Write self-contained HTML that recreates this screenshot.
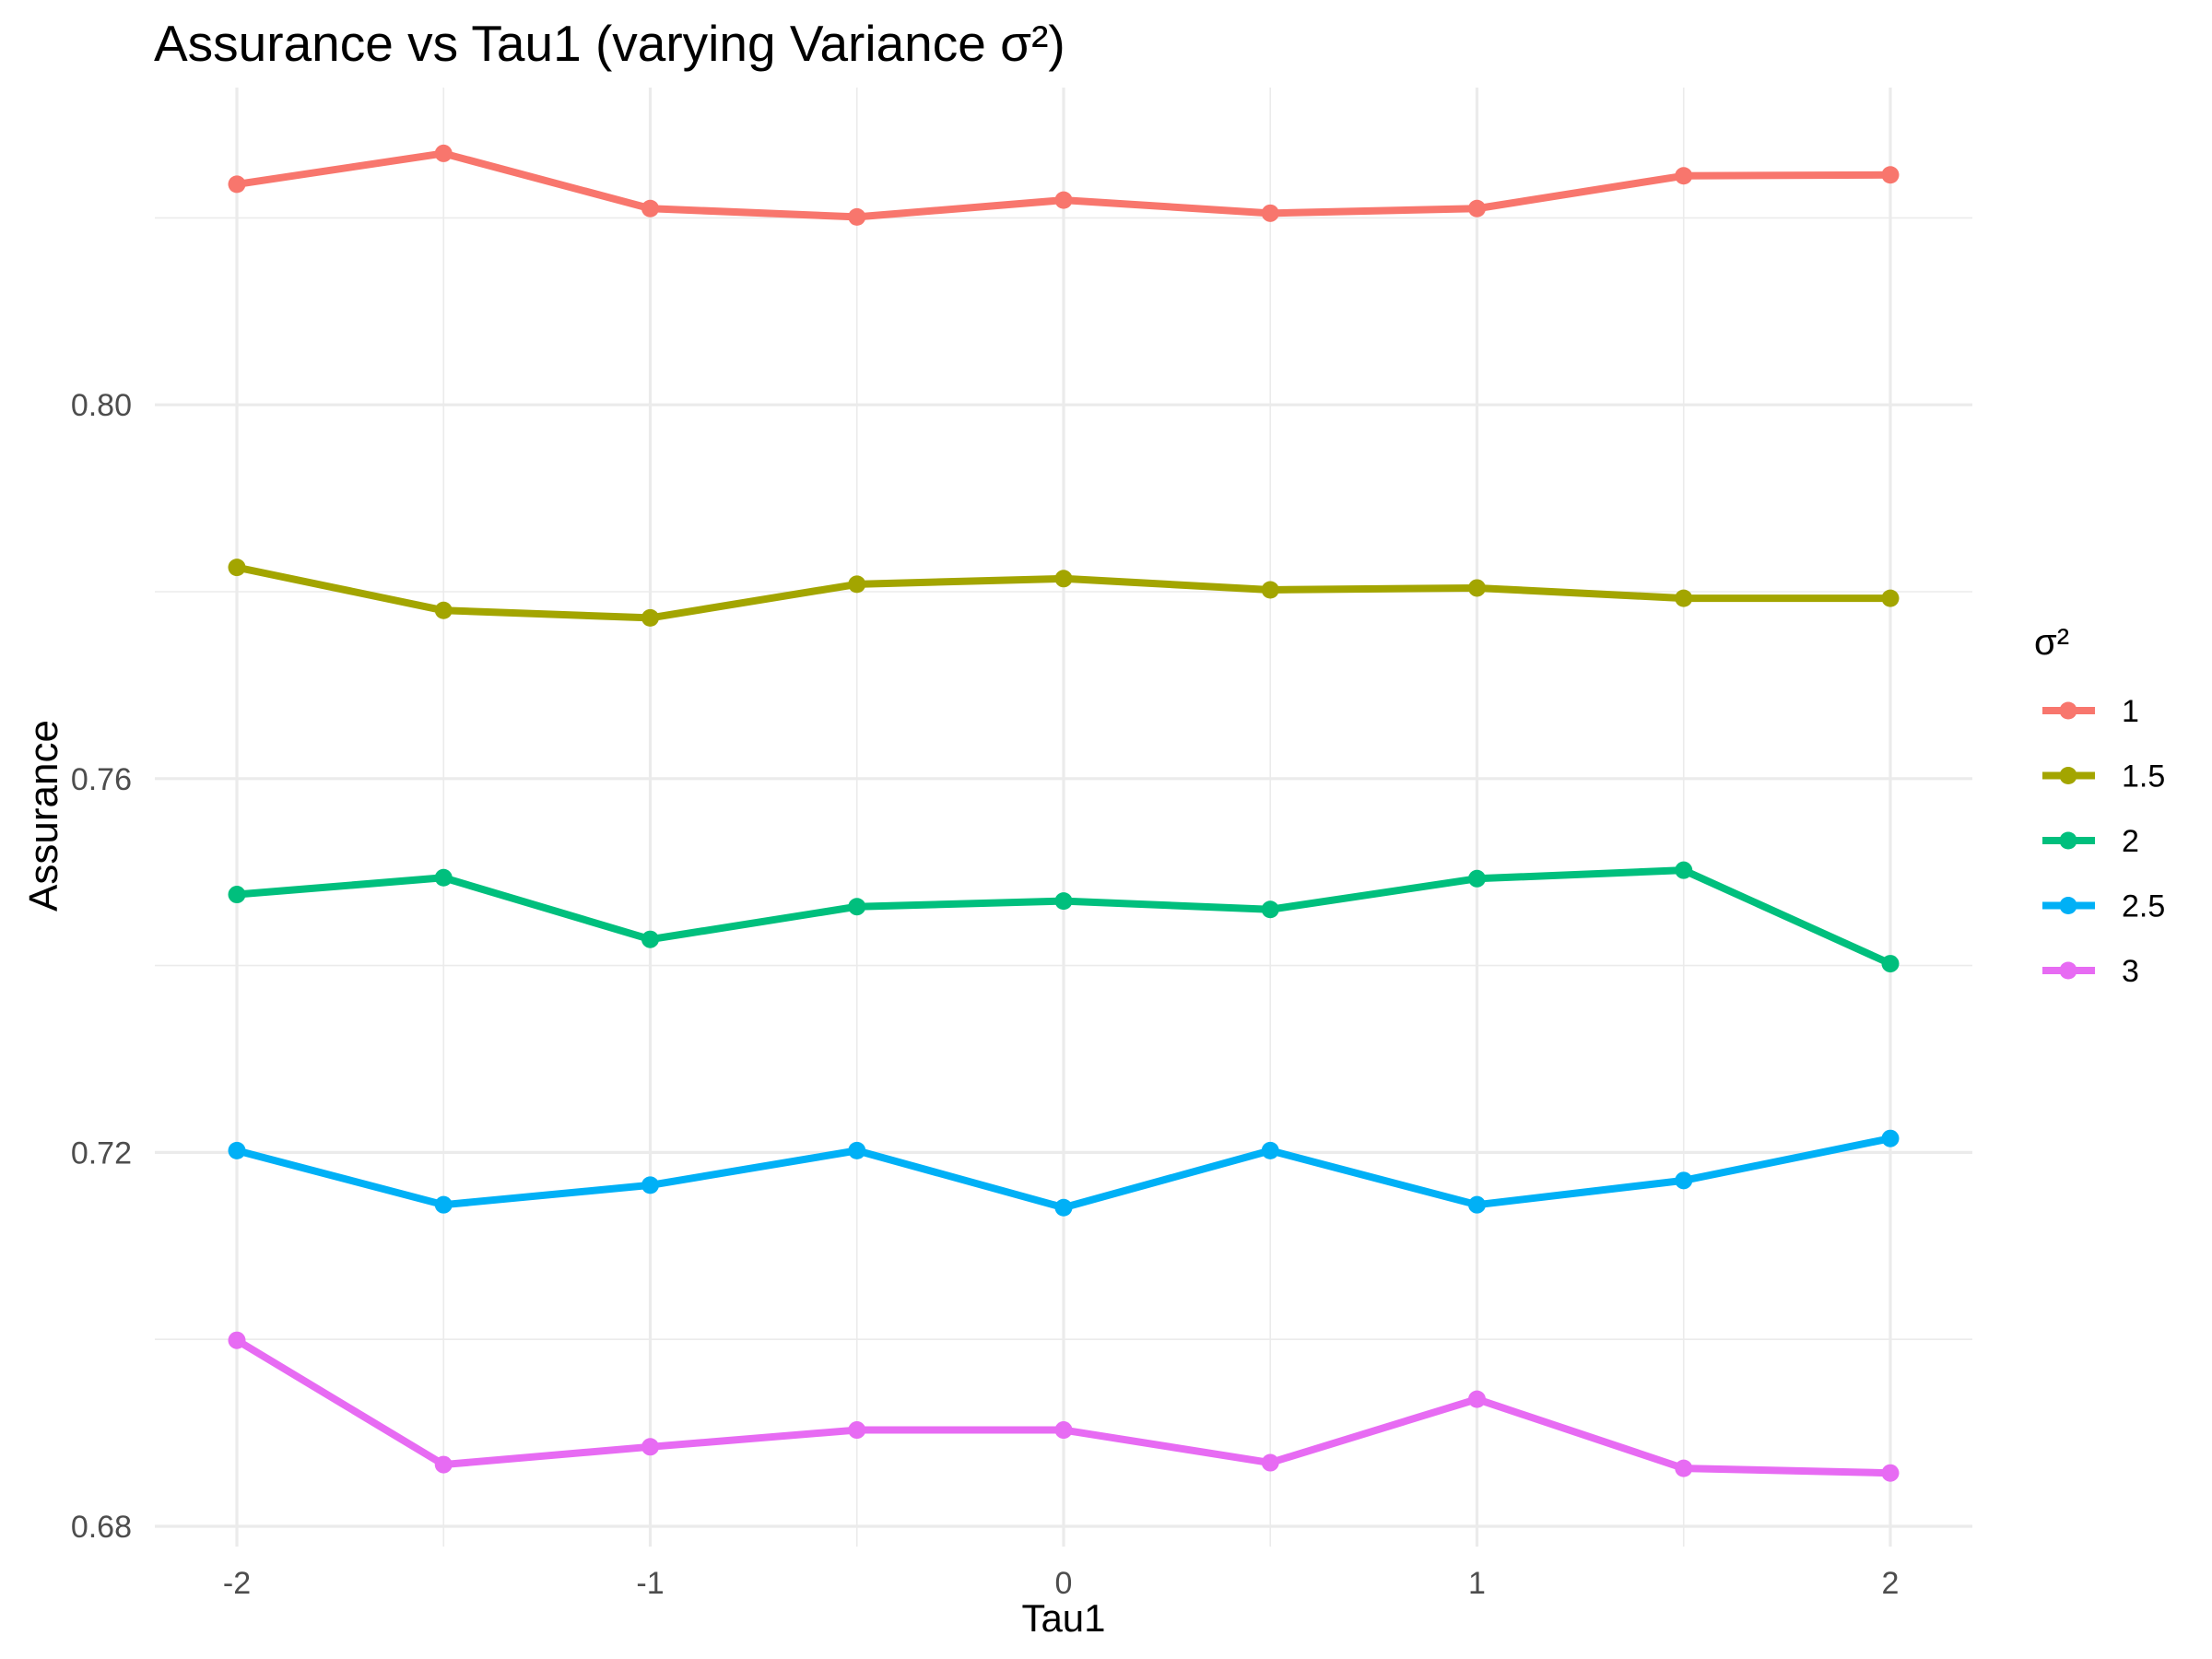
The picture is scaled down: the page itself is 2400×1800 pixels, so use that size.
<!DOCTYPE html>
<html><head><meta charset="utf-8"><style>body{margin:0;background:#fff}svg{display:block}text{font-family:"Liberation Sans",sans-serif}</style></head>
<body>
<svg id="chart" width="2400" height="1800" xmlns="http://www.w3.org/2000/svg">
<rect width="2400" height="1800" fill="#fff"/>
<g id="grid"></g><g id="series"></g><g id="axes"></g><g id="legend"></g>
<text x="167" y="66" font-size="55" fill="#000">Assurance vs Tau1 (varying Variance σ²)</text>
<text x="1154" y="1770" font-size="42" text-anchor="middle" fill="#000">Tau1</text>
<text transform="translate(62,885) rotate(-90)" font-size="44" text-anchor="middle" fill="#000">Assurance</text>
</svg>
<script>
const taus = [-2,-1.5,-1,-0.5,0,0.5,1,1.5,2];
const seriesNames = ["1","1.5","2","2.5","3"];
const colors = ["#F8766D","#A3A500","#00BF7D","#00B0F6","#E76BF3"];
const s1 = [0.8236,0.8269,0.8210,0.8201,0.8219,0.8205,0.8210,0.8245,0.8246];
const s15 = [0.7826,0.7780,0.7772,0.7808,0.7814,0.7802,0.7804,0.7793,0.7793];
const s2 = [0.7476,0.7494,0.7428,0.7463,0.7469,0.7460,0.7493,0.7502,0.7402];
const s25 = [0.7202,0.7144,0.7165,0.7202,0.7141,0.7202,0.7144,0.7170,0.7215];
const s3 = [0.6999,0.6866,0.6885,0.6903,0.6903,0.6868,0.6936,0.6862,0.6857];
const xTicks = [-2,-1,0,1,2];
const xTickLabels = ["-2","-1","0","1","2"];
const yTicks = [0.68,0.72,0.76,0.80];
const yTickLabels = ["0.68","0.72","0.76","0.80"];
const NS="http://www.w3.org/2000/svg";
const X = t => 257 + (t+2)*448.5;
const Y = v => 1656 - (v-0.68)/0.04*405.6;
function mk(tag, attrs, parent){const e=document.createElementNS(NS,tag);for(const k in attrs)e.setAttribute(k,attrs[k]);parent.appendChild(e);return e;}
const grid=document.getElementById('grid'), ser=document.getElementById('series'), ax=document.getElementById('axes'), leg=document.getElementById('legend');
const L=168, R=2140, T=95, B=1678;
[0.70,0.74,0.78,0.82].forEach(v=>{const l=mk('line',{x1:L,x2:R,y1:Y(v),y2:Y(v),stroke:'#ebebeb','stroke-width':1.6},grid);

});
[-1.5,-0.5,0.5,1.5].forEach(t=>{const l=mk('line',{x1:X(t),x2:X(t),y1:T,y2:B,stroke:'#ebebeb','stroke-width':1.6},grid);

});
yTicks.forEach((v,i)=>{const l=mk('line',{x1:L,x2:R,y1:Y(v),y2:Y(v),stroke:'#ebebeb','stroke-width':3.2},grid);


const t=mk('text',{x:143,y:Y(v)+12,'font-size':34,'text-anchor':'end',fill:'#4d4d4d'},ax);t.textContent=yTickLabels[i];

});
xTicks.forEach((v,i)=>{const l=mk('line',{x1:X(v),x2:X(v),y1:T,y2:B,stroke:'#ebebeb','stroke-width':3.2},grid);


const t=mk('text',{x:X(v),y:1729,'font-size':34,'text-anchor':'middle',fill:'#4d4d4d'},ax);t.textContent=xTickLabels[i];

});
const data=[s1,s15,s2,s25,s3];
data.forEach((vals,si)=>{
 const g=mk('g',{},ser);
 
 
 const p=mk('polyline',{points:vals.map((v,i)=>X(taus[i])+','+Y(v)).join(' '),fill:'none',stroke:colors[si],'stroke-width':8,'stroke-linejoin':'round'},g);
 
 
 vals.forEach((v,i)=>{const c=mk('circle',{cx:X(taus[i]),cy:Y(v),r:9.5,fill:colors[si]},g);
 
 });
 const ly=771+si*70.5;
 const lg=mk('g',{},leg);
 
 
 mk('line',{x1:2216,x2:2273,y1:ly,y2:ly,stroke:colors[si],'stroke-width':8},lg);
 mk('circle',{cx:2244,cy:ly,r:9.5,fill:colors[si]},lg);
 const t=mk('text',{x:2302,y:ly+12,'font-size':34,fill:'#000'},lg);t.textContent=seriesNames[si];
});
const lt=mk('text',{x:2207,y:710,'font-size':40,fill:'#000'},leg);lt.textContent='σ²';


</script>
</body></html>
